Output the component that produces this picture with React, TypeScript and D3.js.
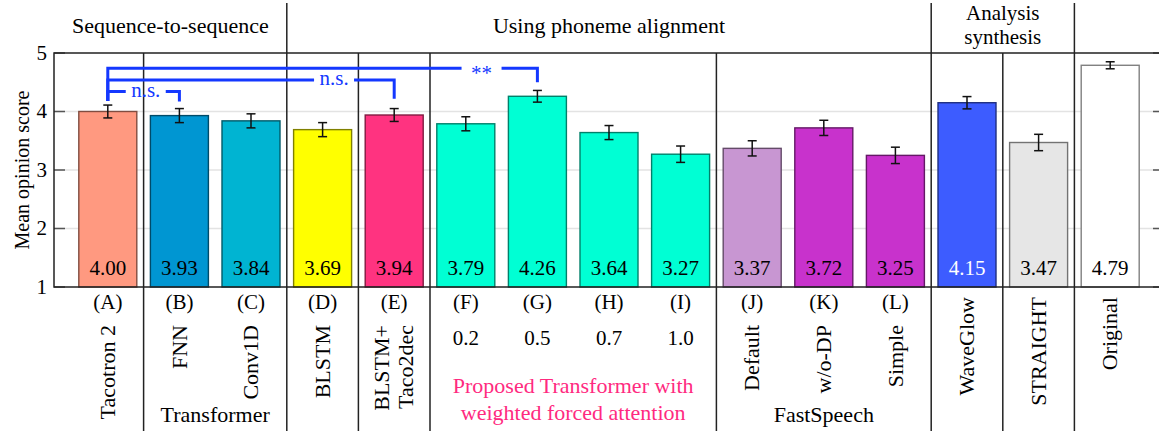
import React from "react";
import * as d3 from "d3";

// systems, left to right
const letters = ["(A)", "(B)", "(C)", "(D)", "(E)", "(F)", "(G)", "(H)", "(I)", "(J)", "(K)", "(L)", "", "", ""];
const names = [
  ["Tacotron 2"], ["FNN"], ["Conv1D"], ["BLSTM"], ["BLSTM+", "Taco2dec"],
  [], [], [], [],
  ["Default"], ["w/o-DP"], ["Simple"], ["WaveGlow"], ["STRAIGHT"], ["Original"],
];
const weights = ["", "", "", "", "", "0.2", "0.5", "0.7", "1.0", "", "", "", "", "", ""];
const mos = [4.0, 3.93, 3.84, 3.69, 3.94, 3.79, 4.26, 3.64, 3.27, 3.37, 3.72, 3.25, 4.15, 3.47, 4.79];
const ci = [0.11, 0.12, 0.12, 0.12, 0.11, 0.12, 0.1, 0.12, 0.14, 0.13, 0.13, 0.14, 0.105, 0.14, 0.06];
const barColors = [
  "#ff9980", "#0096d2", "#00b4d2", "#ffff00", "#ff3380",
  "#00ffd4", "#00ffd4", "#00ffd4", "#00ffd4",
  "#c896d2", "#c832cc", "#c832cc", "#3d5cff", "#e6e6e6", "#ffffff",
];
const whiteLabel = [12];

// group dividers: boundary after bar i
const dividers = [0, 2, 3, 4, 8, 11, 12, 13];
const tallDividers = [2, 11, 13];

const topGroups = [
  { lines: ["Sequence-to-sequence"], from: 0, to: 2 },
  { lines: ["Using phoneme alignment"], from: 3, to: 11 },
  { lines: ["Analysis", "synthesis"], from: 12, to: 13 },
];
const bottomGroups = [
  { lines: ["Transformer"], from: 1, to: 2, color: "#000" },
  { lines: ["Proposed Transformer with", "weighted forced attention"], from: 5, to: 8, color: "#ff2a7f" },
  { lines: ["FastSpeech"], from: 9, to: 11, color: "#000" },
];

// significance brackets
const brackets = [
  { from: 0, to: 1, level: 4.34, ends: [4.18, 4.17], label: "n.s.", at: 0.53 },
  { from: 0, to: 4, level: 4.54, ends: [4.18, 4.22], label: "n.s.", at: 0.79 },
  { from: 0, to: 6, level: 4.74, ends: [4.18, 4.5], label: "**", at: 0.87 },
];
const yTicks = [1, 2, 3, 4, 5];

const W = 1159;
const H = 431;
const left = 54;
const right = 1164;
const top = 53;
const bottom = 287;
const FONT = '"Liberation Serif", "Times New Roman", "DejaVu Serif", serif';
const BLUE = "#1438ff";
const NUM = 21; // number labels
const TXT = 22; // word labels

export default function App() {
  const keys = mos.map((_, i) => String(i));
  const x = d3.scaleBand().domain(keys).range([72, 1146]).paddingInner(0.19).paddingOuter(0.095);
  const y = d3.scaleLinear().domain([1, 5]).range([bottom, top]);
  const bw = x.bandwidth();
  const step = x.step();
  const cx = (i: number) => (x(String(i)) as number) + bw / 2;
  const edgeAfter = (i: number) => cx(i) + step / 2;
  const edgeBefore = (i: number) => (i === 0 ? left : cx(i) - step / 2);
  const dark = (c: string) => {
    const r = d3.rgb(c);
    return d3.rgb(r.r / 2, r.g / 2, r.b / 2).formatHex();
  };

  return (
    <svg width={W} height={H} style={{ position: "absolute", left: 0, top: 0, fontFamily: FONT }}>
      <rect width={W} height={H} fill="#fff" />
      {/* grid */}
      {yTicks.slice(1, -1).map((t) => (
        <line key={t} x1={left} x2={right} y1={y(t)} y2={y(t)} stroke="#e3e3e3" strokeWidth={1.5} />
      ))}
      {/* bars */}
      {mos.map((v, i) => (
        <rect key={i} x={x(String(i))} y={y(v)} width={bw} height={y(1) - y(v)}
          fill={barColors[i]} stroke={dark(barColors[i])} strokeWidth={1.4} />
      ))}
      {mos.map((v, i) => (
        <text key={i} x={cx(i)} y={275} textAnchor="middle" fontSize={NUM}
          fill={whiteLabel.includes(i) ? "#fff" : "#000"}>{v.toFixed(2)}</text>
      ))}
      {/* error bars */}
      {mos.map((v, i) => (
        <g key={i} stroke="#111" strokeWidth={1.5}>
          <line x1={cx(i)} x2={cx(i)} y1={y(v + ci[i])} y2={y(v - ci[i])} />
          <line x1={cx(i) - 4.5} x2={cx(i) + 4.5} y1={y(v + ci[i])} y2={y(v + ci[i])} />
          <line x1={cx(i) - 4.5} x2={cx(i) + 4.5} y1={y(v - ci[i])} y2={y(v - ci[i])} />
        </g>
      ))}
      {/* ticks */}
      {yTicks.map((t) => (
        <g key={t} stroke="#555" strokeWidth={1.5}>
          <line x1={left} x2={left + 11} y1={y(t)} y2={y(t)} />
          <line x1={right - 11} x2={right} y1={y(t)} y2={y(t)} />
        </g>
      ))}
      {yTicks.map((t) => (
        <text key={t} x={47} y={y(t)} dy="0.33em" textAnchor="end" fontSize={NUM}>{t}</text>
      ))}
      <text transform={`translate(29,${(top + bottom) / 2}) rotate(-90)`} textAnchor="middle" fontSize={20}>
        Mean opinion score
      </text>
      {/* frame */}
      <rect x={left} y={top} width={right - left} height={bottom - top} fill="none" stroke="#222" strokeWidth={1.5} />
      {/* dividers */}
      {dividers.map((d) => (
        <line key={d} x1={edgeAfter(d)} x2={edgeAfter(d)} y1={tallDividers.includes(d) ? 3 : top} y2={H}
          stroke="#222" strokeWidth={1.5} />
      ))}
      {/* top group labels */}
      {topGroups.map((g, gi) => {
        const mid = (edgeBefore(g.from) + edgeAfter(g.to)) / 2;
        const multi = g.lines.length > 1;
        return g.lines.map((l, li) => (
          <text key={gi + "-" + li} x={mid} y={multi ? 20 + li * 24 : 33}
            textAnchor="middle" fontSize={multi ? NUM : TXT}>{l}</text>
        ));
      })}
      {/* bottom labels */}
      {letters.map((l, i) => (
        <text key={i} x={cx(i)} y={309} textAnchor="middle" fontSize={NUM}>{l}</text>
      ))}
      {weights.map((w, i) => (
        <text key={i} x={cx(i)} y={345} textAnchor="middle" fontSize={NUM}>{w}</text>
      ))}
      {names.map((ls, i) =>
        ls.map((l, li) => (
          <text key={i + "-" + li}
            transform={`translate(${cx(i) + (li - (ls.length - 1) / 2) * 24},${letters[i] ? 325 : 297}) rotate(-90)`}
            dy="0.33em" textAnchor="end" fontSize={TXT}>{l}</text>
        ))
      )}
      {bottomGroups.map((g, gi) => {
        const mid = (edgeBefore(g.from) + edgeAfter(g.to)) / 2;
        return g.lines.map((l, li) => (
          <text key={gi + "-" + li} x={mid} y={g.lines.length > 1 ? 393 + li * 27 : 422}
            textAnchor="middle" fontSize={TXT} fill={g.color}>{l}</text>
        ));
      })}
      {/* significance brackets */}
      {brackets.map((b, bi) => {
        const x0 = cx(b.from);
        const x1 = cx(b.to);
        const yl = y(b.level);
        const lx = x0 + (x1 - x0) * b.at;
        return (
          <g key={bi}>
            <path d={`M${x0},${y(b.ends[0])}V${yl}H${lx - 20}M${lx + 20},${yl}H${x1}V${y(b.ends[1])}`}
              fill="none" stroke={BLUE} strokeWidth={3} />
            <text x={lx} y={yl} dy={b.label === "**" ? "0.55em" : "0.25em"} textAnchor="middle"
              fontSize={NUM} fill={BLUE}>{b.label}</text>
          </g>
        );
      })}
    </svg>
  );
}
